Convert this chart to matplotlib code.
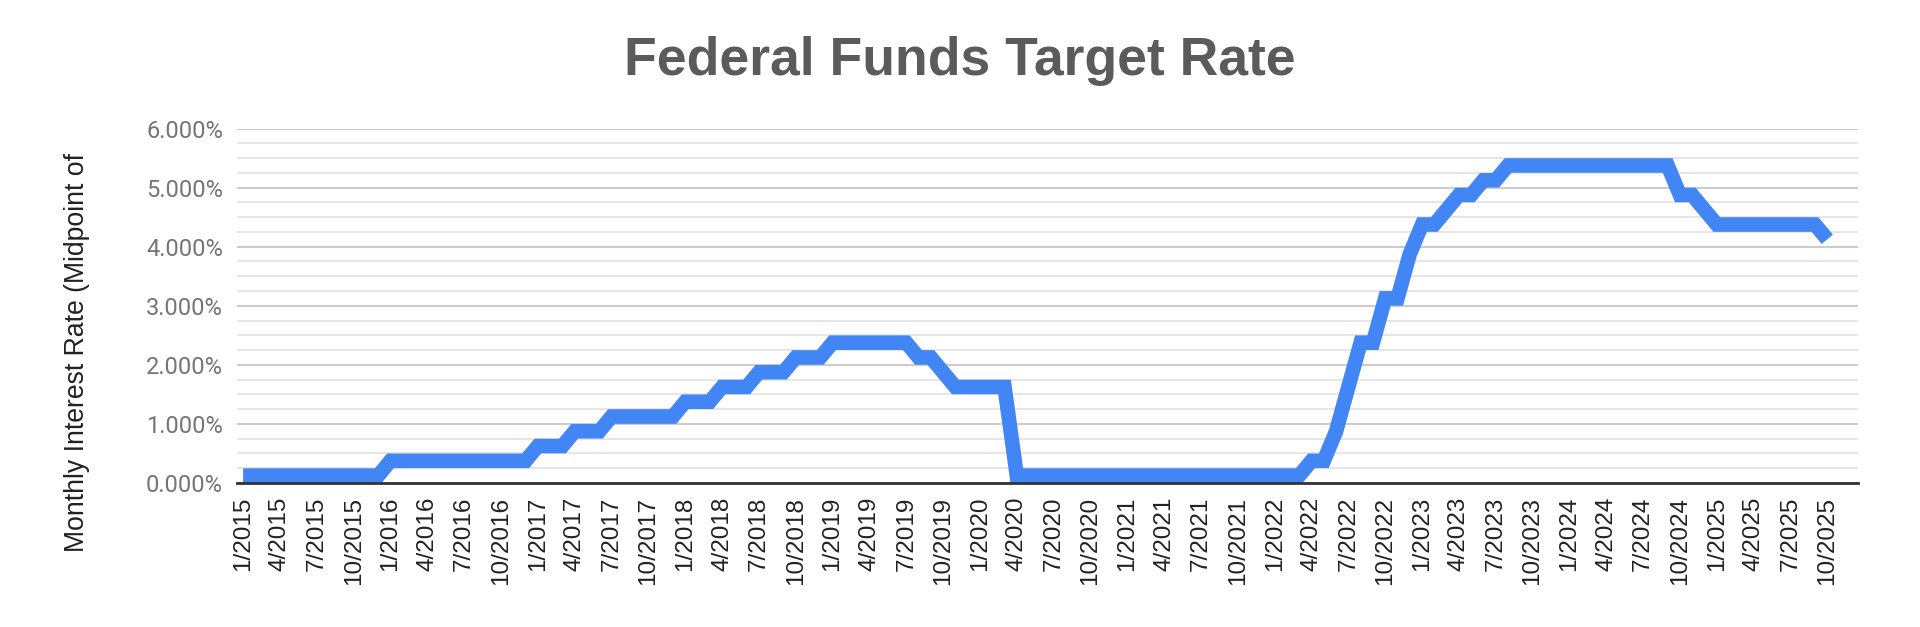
import matplotlib
matplotlib.use("Agg")
import matplotlib.pyplot as plt
from matplotlib.ticker import MultipleLocator, FuncFormatter

# Federal funds target rate, midpoint of the target range (%), one value per month
rate_2015 = [0.125, 0.125, 0.125, 0.125, 0.125, 0.125, 0.125, 0.125, 0.125, 0.125, 0.125, 0.125]
rate_2016 = [0.375, 0.375, 0.375, 0.375, 0.375, 0.375, 0.375, 0.375, 0.375, 0.375, 0.375, 0.375]
rate_2017 = [0.625, 0.625, 0.625, 0.875, 0.875, 0.875, 1.125, 1.125, 1.125, 1.125, 1.125, 1.125]
rate_2018 = [1.375, 1.375, 1.375, 1.625, 1.625, 1.625, 1.875, 1.875, 1.875, 2.125, 2.125, 2.125]
rate_2019 = [2.375, 2.375, 2.375, 2.375, 2.375, 2.375, 2.375, 2.125, 2.125, 1.875, 1.625, 1.625]
rate_2020 = [1.625, 1.625, 1.625, 0.125, 0.125, 0.125, 0.125, 0.125, 0.125, 0.125, 0.125, 0.125]
rate_2021 = [0.125, 0.125, 0.125, 0.125, 0.125, 0.125, 0.125, 0.125, 0.125, 0.125, 0.125, 0.125]
rate_2022 = [0.125, 0.125, 0.125, 0.375, 0.375, 0.875, 1.625, 2.375, 2.375, 3.125, 3.125, 3.875]
rate_2023 = [4.375, 4.375, 4.625, 4.875, 4.875, 5.125, 5.125, 5.375, 5.375, 5.375, 5.375, 5.375]
rate_2024 = [5.375, 5.375, 5.375, 5.375, 5.375, 5.375, 5.375, 5.375, 5.375, 4.875, 4.875, 4.625]
rate_2025 = [4.375, 4.375, 4.375, 4.375, 4.375, 4.375, 4.375, 4.375, 4.375, 4.125]

years = [2015, 2016, 2017, 2018, 2019, 2020, 2021, 2022, 2023, 2024, 2025]
yearly = [rate_2015, rate_2016, rate_2017, rate_2018, rate_2019, rate_2020,
          rate_2021, rate_2022, rate_2023, rate_2024, rate_2025]

months = []
rates = []
for yr, vals in zip(years, yearly):
    for m, v in enumerate(vals, start=1):
        months.append(f"{m}/{yr}")
        rates.append(v)

x = list(range(len(rates)))
# label every third month, like the sheet does
tick_pos = x[::3]
tick_labels = months[::3]

fig = plt.figure(figsize=(19.2, 6.27), dpi=100)
ax = fig.add_axes([237 / 1920, 0.2297, (1858 - 237) / 1920, 0.795 - 0.2297])

ax.plot(x, rates, color="#4285F4", linewidth=10.5,
        solid_joinstyle="miter", solid_capstyle="butt", zorder=3)

ax.set_xlim(-0.5, 131.5)
ax.set_ylim(0, 6)

ax.yaxis.set_major_locator(MultipleLocator(1))
ax.yaxis.set_minor_locator(MultipleLocator(0.25))
ax.yaxis.set_major_formatter(FuncFormatter(lambda v, p: f"{v:.3f}%"))
ax.grid(axis="y", which="major", color="#cccccc", linewidth=1.5, zorder=0)
ax.grid(axis="y", which="minor", color="#e4e4e4", linewidth=1.3, zorder=0)

ax.set_xticks(tick_pos)
ax.set_xticklabels(tick_labels, rotation=90, fontsize=17.5,
                   family="Liberation Sans", color="#222222")

for lbl in ax.get_yticklabels():
    lbl.set_family("Roboto")
ax.tick_params(axis="y", which="both", length=0, labelsize=17,
               labelcolor="#757575", pad=10)
ax.tick_params(axis="x", length=0, pad=10)

for s in ["left", "right", "top"]:
    ax.spines[s].set_visible(False)
ax.spines["bottom"].set_color("#333333")
ax.spines["bottom"].set_linewidth(2)
ax.spines["bottom"].set_zorder(4)

fig.text(0.5, 1 - 75 / 627, "Federal Funds Target Rate", ha="center",
         va="baseline", fontsize=38.5, fontweight="bold",
         family="Liberation Sans", color="#5b5b5b")

fig.text(77 / 1920, 1 - 352 / 627, "Monthly Interest Rate (Midpoint of",
         rotation=90, ha="center", va="center", fontsize=19.2,
         family="Liberation Sans", color="#222222")

fig.savefig("out.png", dpi=100, facecolor="white")
